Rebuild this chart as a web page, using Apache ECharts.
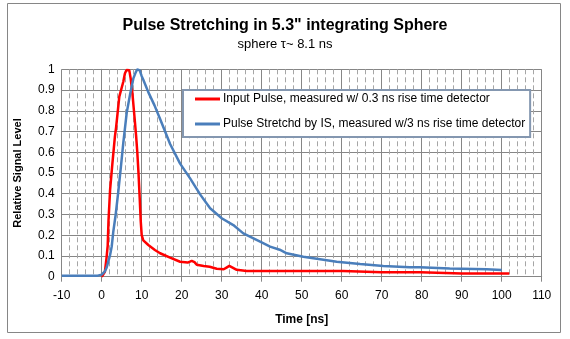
<!DOCTYPE html>
<html>
<head>
<meta charset="utf-8">
<script src="https://cdn.jsdelivr.net/npm/echarts@6/dist/echarts.min.js"></script>
<style>
html,body{margin:0;padding:0;background:#fff;}
#c{width:570px;height:339px;}
</style>
</head>
<body>
<div id="c"></div>
<script>
var titleText = 'Pulse Stretching in 5.3" integrating Sphere';
var subtitleText = 'sphere \u03c4~ 8.1 ns';
var xAxisTitle = 'Time [ns]';
var yAxisTitle = 'Relative Signal Level';
var seriesNames = ['Input Pulse, measured w/ 0.3 ns rise time detector',
                   'Pulse Stretchd by IS, measured w/3 ns rise time detector'];
var xTicks = [-10, 0, 10, 20, 30, 40, 50, 60, 70, 80, 90, 100, 110];
var yTicks = [0, 0.1, 0.2, 0.3, 0.4, 0.5, 0.6, 0.7, 0.8, 0.9, 1];

var redTime = [0, 0.5, 0.8, 1.2, 1.5, 1.7, 2.1, 2.65, 3.3, 3.6, 4.4, 5.4, 5.8, 6.2, 6.6, 6.9,
  7.25, 7.65, 8.2, 8.6, 8.9, 9.2, 9.5, 9.75, 10.0, 10.4, 11.65, 13.3, 14.6, 17.1, 19.6,
  21.5, 22.5, 23.2, 23.75, 25.5, 27, 28.75, 30.5, 31.2, 31.9, 32.6, 33.75, 36.25, 40,
  45.5, 46, 46.5, 55, 60.3, 60.6, 70, 79.6, 79.9, 90, 101.9];
var redValue = [0, 0.005, 0.024, 0.09, 0.15, 0.27, 0.42, 0.54, 0.675, 0.72, 0.868, 0.94, 0.98, 0.997, 1.0, 0.995,
  0.955, 0.89, 0.77, 0.68, 0.6, 0.5, 0.38, 0.27, 0.2, 0.175, 0.153, 0.129, 0.113, 0.092, 0.072,
  0.068, 0.076, 0.07, 0.058, 0.052, 0.048, 0.038, 0.036, 0.044, 0.052, 0.045, 0.033, 0.028, 0.027,
  0.027, 0.031, 0.027, 0.027, 0.027, 0.021, 0.021, 0.021, 0.016, 0.016, 0.016];

var blueTime = [-10, -1, 0, 0.4, 0.8, 1.25, 2.1, 2.5, 2.9, 3.5, 4.15, 4.8, 5.4, 6.25, 7.1, 7.9, 8.5, 8.9,
  9.5, 10.0, 10.4, 11.65, 13.2, 14.6, 17.1, 19.6, 22.1, 24.6, 27.1, 30, 32.9, 35.4, 39.6, 42.1,
  44.5, 46.25, 50.4, 54.6, 58.75, 64.6, 70.4, 77, 79.5, 79.8, 87, 87.3, 96.2, 96.5, 100];
var blueValue = [0.005, 0.005, 0.01, 0.015, 0.026, 0.045, 0.105, 0.145, 0.217, 0.3, 0.41, 0.53, 0.645, 0.79, 0.88, 0.955, 0.985, 1.0,
  0.995, 0.967, 0.95, 0.89, 0.826, 0.76, 0.64, 0.545, 0.474, 0.397, 0.33, 0.282, 0.249, 0.209, 0.169, 0.145,
  0.13, 0.113, 0.096, 0.084, 0.072, 0.061, 0.052, 0.046, 0.045, 0.04, 0.04, 0.036, 0.036, 0.032, 0.032];

function pairs(t, v) { return t.map(function (x, i) { return [x, v[i]]; }); }

var gridColor = '#868686';
var font = '"Liberation Sans", Arial, sans-serif';
var lineIcon = 'path://M0,0 L25,0 L25,3 L0,3 Z';

var chart = echarts.init(document.getElementById('c'), null, {renderer: 'canvas'});
chart.setOption({
  animation: false,
  backgroundColor: '#ffffff',
  textStyle: {fontFamily: font},
  title: [{
    text: titleText,
    left: 'center',
    top: 18,
    padding: 0,
    textStyle: {fontFamily: font, fontSize: 16, fontWeight: 'bold', color: '#000'}
  }, {
    text: subtitleText,
    left: 'center',
    top: 38,
    padding: 0,
    textStyle: {fontFamily: font, fontSize: 13, fontWeight: 'normal', color: '#000'}
  }],
  graphic: [{
    type: 'rect',
    shape: {x: 7.5, y: 3.5, width: 553, height: 329},
    style: {fill: 'none', stroke: gridColor, lineWidth: 1},
    silent: true, z: -1
  }],
  legend: {
    orient: 'vertical',
    left: 183,
    top: 90,
    padding: [3, 5, 7, 12],
    itemGap: 13,
    itemWidth: 25,
    itemHeight: 14,
    symbolKeepAspect: true,
    backgroundColor: '#fff',
    borderColor: '#8497b0',
    borderWidth: 2,
    textStyle: {fontFamily: font, fontSize: 12, color: '#000', padding: [0, 0, 0, -2]},
    data: [{name: seriesNames[0], icon: lineIcon}, {name: seriesNames[1], icon: lineIcon}]
  },
  grid: {left: 61.7, right: 28.3, top: 69.3, bottom: 62.3, containLabel: false},
  xAxis: {
    type: 'value',
    min: xTicks[0],
    max: xTicks[xTicks.length - 1],
    interval: xTicks[1] - xTicks[0],
    name: xAxisTitle,
    nameLocation: 'middle',
    nameGap: 37,
    nameTextStyle: {fontFamily: font, fontSize: 12, fontWeight: 'bold', color: '#000'},
    axisLine: {show: true, onZero: false, lineStyle: {color: gridColor, width: 1}},
    axisTick: {show: true, inside: false, length: 5, lineStyle: {color: gridColor}},
    axisLabel: {fontFamily: font, fontSize: 12, color: '#000', margin: 13},
    splitLine: {show: true, lineStyle: {color: gridColor, width: 1}},
    minorTick: {show: false, splitNumber: 5},
    minorSplitLine: {show: true, lineStyle: {color: '#a6a6a6', width: 1, type: [5, 3]}}
  },
  yAxis: {
    type: 'value',
    min: yTicks[0],
    max: yTicks[yTicks.length - 1],
    interval: 0.1,
    name: yAxisTitle,
    nameLocation: 'middle',
    nameGap: 38,
    nameRotate: 90,
    nameTextStyle: {fontFamily: font, fontSize: 11, fontWeight: 'bold', color: '#000'},
    axisLine: {show: true, lineStyle: {color: gridColor, width: 1}},
    axisTick: {show: true, inside: false, length: 4, lineStyle: {color: gridColor}},
    axisLabel: {fontFamily: font, fontSize: 12, color: '#000', margin: 7,
      formatter: function (v) { return String(Math.round(v * 10) / 10); }},
    splitLine: {show: true, lineStyle: {color: gridColor, width: 1}}
  },
  series: [{
    name: seriesNames[0],
    type: 'line',
    data: pairs(redTime, redValue),
    symbol: 'none',
    smooth: false,
    lineStyle: {color: '#ff0000', width: 2.5},
    itemStyle: {color: '#ff0000'},
    z: 3
  }, {
    name: seriesNames[1],
    type: 'line',
    data: pairs(blueTime, blueValue),
    symbol: 'none',
    smooth: false,
    lineStyle: {color: '#4a7ebb', width: 2.5},
    itemStyle: {color: '#4a7ebb'},
    z: 4
  }]
});
</script>
</body>
</html>
